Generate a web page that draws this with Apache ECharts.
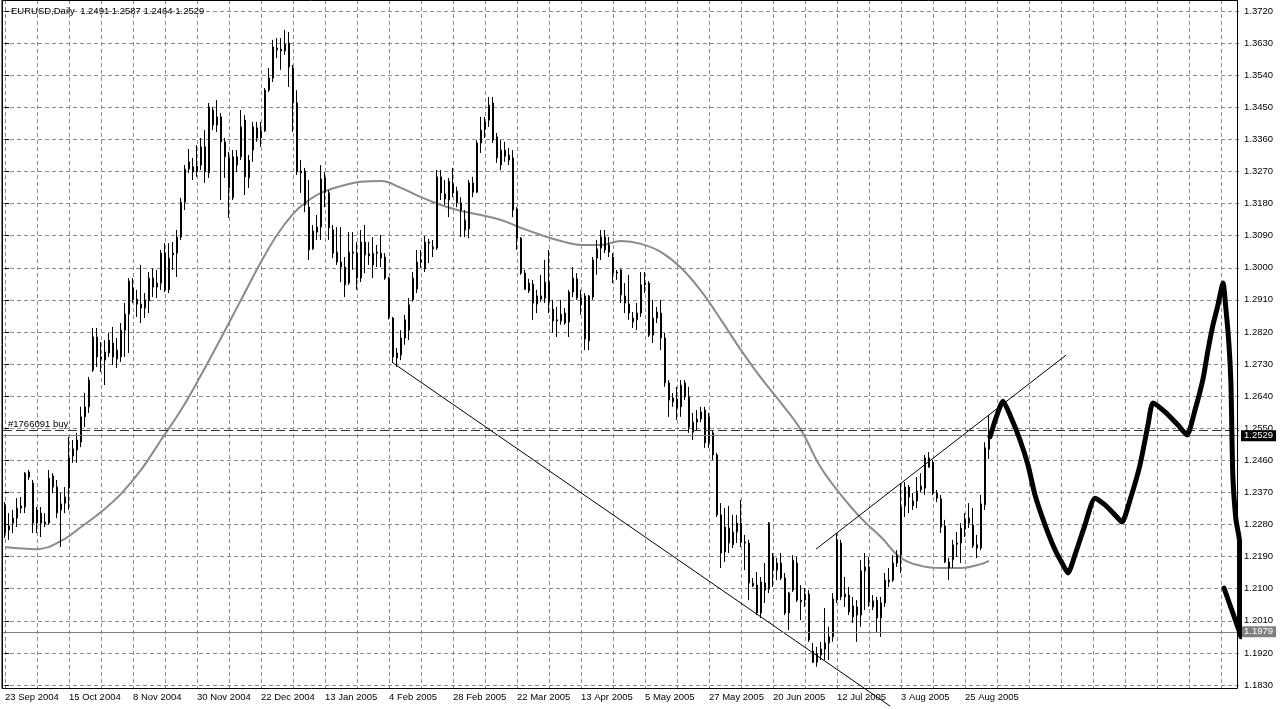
<!DOCTYPE html>
<html><head><meta charset="utf-8">
<script src="https://cdn.jsdelivr.net/npm/echarts@6/dist/echarts.min.js"></script>
<style>html,body{margin:0;padding:0;background:#fff}#c{width:1280px;height:709px}</style>
</head><body><div id="c"></div>
<script>
// ---- data ----
const symbolTitle = 'EURUSD,Daily  1.2491 1.2587 1.2464 1.2529';
const dateLabels = ['23 Sep 2004','15 Oct 2004','8 Nov 2004','30 Nov 2004','22 Dec 2004','13 Jan 2005','4 Feb 2005','28 Feb 2005','22 Mar 2005','13 Apr 2005','5 May 2005','27 May 2005','20 Jun 2005','12 Jul 2005','3 Aug 2005','25 Aug 2005'];
const yTickMin = 1.1830, yTickMax = 1.3720, yTickStep = 0.0090;

const open = [1.2335,1.2265,1.2284,1.2298,1.2326,1.2329,1.2427,1.2396,1.2284,1.2312,1.2282,1.2284,1.2416,1.2385,1.2321,1.2340,1.2382,1.2472,1.2489,1.2511,1.2582,1.2610,1.2713,1.2806,1.2750,1.2741,1.2761,1.2789,1.2769,1.2750,1.2825,1.2870,1.2943,1.2912,1.2898,1.2887,1.2907,1.2971,1.2946,1.2957,1.3041,1.2938,1.3041,1.3041,1.3086,1.3184,1.3277,1.3283,1.3269,1.3288,1.3339,1.3266,1.3442,1.3400,1.3423,1.3353,1.3308,1.3196,1.3311,1.3311,1.3414,1.3252,1.3330,1.3392,1.3364,1.3384,1.3498,1.3532,1.3616,1.3608,1.3608,1.3630,1.3560,1.3462,1.3271,1.3271,1.3170,1.3053,1.3100,1.3114,1.3252,1.3210,1.3106,1.3044,1.3016,1.3002,1.2957,1.3041,1.3041,1.2971,1.3072,1.3039,1.3008,1.3044,1.3041,1.3030,1.2971,1.2859,1.2747,1.2755,1.2803,1.2825,1.2910,1.2940,1.3022,1.2997,1.3069,1.3053,1.3055,1.3255,1.3207,1.3190,1.3235,1.3215,1.3182,1.3134,1.3109,1.3238,1.3212,1.3350,1.3389,1.3414,1.3462,1.3367,1.3288,1.3330,1.3316,1.3308,1.3165,1.3083,1.2985,1.2935,1.2954,1.2898,1.2921,1.2915,1.2960,1.2884,1.2854,1.2851,1.2873,1.2848,1.2932,1.2969,1.2915,1.2921,1.2795,1.2918,1.3027,1.3055,1.3086,1.3044,1.3030,1.2988,1.2994,1.2921,1.2898,1.2859,1.2854,1.2873,1.2952,1.2957,1.2811,1.2859,1.2873,1.2803,1.2677,1.2624,1.2632,1.2610,1.2677,1.2638,1.2539,1.2567,1.2576,1.2601,1.2509,1.2537,1.2475,1.2307,1.2203,1.2270,1.2223,1.2259,1.2284,1.2231,1.2228,1.2108,1.2110,1.2032,1.2116,1.2099,1.2189,1.2152,1.2172,1.2130,1.2032,1.2096,1.2172,1.2063,1.2068,1.2085,1.1925,1.1894,1.1914,1.1931,1.1948,1.1965,1.2068,1.2228,1.2077,1.2082,1.2021,1.2049,1.2026,1.2150,1.2161,1.2049,1.2068,1.2018,1.2060,1.2119,1.2124,1.2172,1.2195,1.2332,1.2385,1.2332,1.2346,1.2377,1.2382,1.2467,1.2455,1.2368,1.2352,1.2276,1.2175,1.2181,1.2228,1.2228,1.2267,1.2298,1.2279,1.2223,1.2214,1.2335,1.2491];
const high = [1.2343,1.2312,1.2321,1.2354,1.2357,1.2427,1.2433,1.2405,1.2329,1.2329,1.2312,1.2433,1.2424,1.2405,1.2368,1.2385,1.2526,1.2517,1.2537,1.2610,1.2649,1.2694,1.2831,1.2831,1.2792,1.2797,1.2817,1.2834,1.2803,1.2845,1.2901,1.2971,1.2971,1.2938,1.3008,1.2929,1.2988,1.2998,1.2994,1.3050,1.3069,1.3069,1.3072,1.3106,1.3196,1.3288,1.3333,1.3308,1.3344,1.3364,1.3386,1.3462,1.3451,1.3470,1.3434,1.3364,1.3325,1.3330,1.3330,1.3442,1.3428,1.3316,1.3409,1.3409,1.3409,1.3504,1.3560,1.3639,1.3644,1.3644,1.3667,1.3661,1.3569,1.3498,1.3302,1.3280,1.3246,1.3120,1.3148,1.3288,1.3269,1.3218,1.3120,1.3114,1.3114,1.3030,1.3100,1.3100,1.3072,1.3106,1.3120,1.3072,1.3086,1.3064,1.3092,1.3041,1.2974,1.2862,1.2775,1.2825,1.2868,1.2915,1.2988,1.3050,1.3050,1.3089,1.3081,1.3078,1.3274,1.3274,1.3246,1.3252,1.3280,1.3227,1.3198,1.3162,1.3246,1.3255,1.3358,1.3423,1.3423,1.3479,1.3479,1.3378,1.3358,1.3353,1.3336,1.3330,1.3170,1.3086,1.2994,1.2969,1.2966,1.2938,1.2980,1.3022,1.3050,1.2910,1.2890,1.2910,1.2887,1.2938,1.3002,1.2985,1.2938,1.2929,1.2924,1.3030,1.3078,1.3106,1.3106,1.3086,1.3041,1.2994,1.2997,1.2957,1.2980,1.2876,1.2901,1.2988,1.2988,1.2963,1.2910,1.2890,1.2910,1.2817,1.2685,1.2649,1.2666,1.2685,1.2685,1.2666,1.2593,1.2601,1.2610,1.2610,1.2593,1.2545,1.2481,1.2340,1.2326,1.2332,1.2307,1.2307,1.2349,1.2251,1.2237,1.2130,1.2147,1.2133,1.2172,1.2287,1.2200,1.2186,1.2200,1.2144,1.2091,1.2194,1.2189,1.2110,1.2102,1.2096,1.1948,1.1937,1.1951,1.2046,1.1993,1.2088,1.2256,1.2237,1.2133,1.2105,1.2077,1.2068,1.2180,1.2200,1.2189,1.2082,1.2077,1.2077,1.2144,1.2158,1.2194,1.2208,1.2396,1.2399,1.2391,1.2368,1.2413,1.2424,1.2475,1.2483,1.2461,1.2377,1.2363,1.2293,1.2186,1.2237,1.2259,1.2284,1.2312,1.2340,1.2326,1.2251,1.2363,1.2511,1.2587];
const low = [1.2242,1.2237,1.2256,1.2273,1.2312,1.2312,1.2405,1.2256,1.2256,1.2245,1.2273,1.2279,1.2368,1.2298,1.2217,1.2312,1.2321,1.2453,1.2453,1.2497,1.2553,1.2593,1.2708,1.2722,1.2708,1.2671,1.2750,1.2727,1.2719,1.2736,1.2750,1.2761,1.2901,1.2862,1.2845,1.2859,1.2873,1.2918,1.2915,1.2938,1.2932,1.2929,1.2994,1.2974,1.3078,1.3162,1.3266,1.3246,1.3255,1.3274,1.3238,1.3252,1.3386,1.3381,1.3190,1.3252,1.3140,1.3190,1.3269,1.3302,1.3204,1.3224,1.3297,1.3353,1.3339,1.3381,1.3493,1.3521,1.3588,1.3555,1.3597,1.3507,1.3381,1.3260,1.3210,1.3156,1.3022,1.3050,1.3078,1.3078,1.3170,1.3078,1.3027,1.3008,1.2960,1.2918,1.2952,1.2994,1.2938,1.2960,1.2985,1.3008,1.2971,1.3002,1.3002,1.2966,1.2855,1.2733,1.2722,1.2741,1.2784,1.2797,1.2905,1.2929,1.2999,1.2988,1.3013,1.3030,1.3050,1.3190,1.3176,1.3142,1.3198,1.3170,1.3086,1.3086,1.3083,1.3198,1.3210,1.3322,1.3364,1.3395,1.3350,1.3294,1.3274,1.3297,1.3288,1.3142,1.3050,1.2980,1.2938,1.2929,1.2854,1.2873,1.2904,1.2901,1.2873,1.2817,1.2806,1.2840,1.2840,1.2806,1.2918,1.2910,1.2868,1.2769,1.2769,1.2910,1.2980,1.3022,1.3041,1.3030,1.2957,1.2966,1.2901,1.2873,1.2854,1.2831,1.2825,1.2862,1.2929,1.2806,1.2789,1.2845,1.2769,1.2666,1.2582,1.2610,1.2573,1.2582,1.2629,1.2537,1.2517,1.2545,1.2567,1.2495,1.2495,1.2461,1.2301,1.2158,1.2175,1.2200,1.2214,1.2228,1.2217,1.2152,1.2068,1.2105,1.2026,1.2018,1.2060,1.2088,1.2105,1.2124,1.2124,1.2026,1.1984,1.2091,1.2063,1.2012,1.2049,1.1951,1.1892,1.1881,1.1900,1.1900,1.1900,1.1951,1.2060,1.2068,1.2049,1.2026,1.2004,1.1951,1.1993,1.2040,1.2049,1.2040,1.1979,1.1965,1.2049,1.2105,1.2119,1.2161,1.2144,1.2301,1.2312,1.2321,1.2326,1.2371,1.2363,1.2439,1.2363,1.2343,1.2256,1.2172,1.2124,1.2158,1.2189,1.2172,1.2245,1.2270,1.2214,1.2186,1.2208,1.2321,1.2464];
const close = [1.2256,1.2276,1.2298,1.2326,1.2332,1.2424,1.2413,1.2284,1.2321,1.2284,1.2287,1.2410,1.2385,1.2312,1.2338,1.2357,1.2467,1.2492,1.2517,1.2582,1.2610,1.2685,1.2806,1.2750,1.2744,1.2764,1.2797,1.2750,1.2744,1.2825,1.2870,1.2963,1.2910,1.2898,1.2887,1.2910,1.2971,1.2946,1.2957,1.3041,1.2938,1.3027,1.3036,1.3086,1.3184,1.3277,1.3297,1.3269,1.3285,1.3339,1.3269,1.3451,1.3400,1.3423,1.3353,1.3311,1.3224,1.3311,1.3288,1.3395,1.3255,1.3302,1.3395,1.3364,1.3384,1.3498,1.3532,1.3619,1.3611,1.3613,1.3627,1.3563,1.3462,1.3269,1.3266,1.3176,1.3050,1.3103,1.3114,1.3249,1.3212,1.3112,1.3041,1.3016,1.3002,1.2952,1.3044,1.3044,1.2971,1.3072,1.3036,1.3033,1.3041,1.3041,1.3027,1.2971,1.2862,1.2750,1.2761,1.2803,1.2854,1.2896,1.2971,1.3016,1.3016,1.3072,1.3072,1.3058,1.3255,1.3210,1.3193,1.3243,1.3210,1.3182,1.3162,1.3106,1.3238,1.3212,1.3350,1.3386,1.3409,1.3456,1.3358,1.3308,1.3330,1.3313,1.3302,1.3162,1.3083,1.2985,1.2940,1.2957,1.2901,1.2921,1.2912,1.2960,1.2904,1.2851,1.2851,1.2870,1.2845,1.2932,1.2971,1.2915,1.2896,1.2800,1.2921,1.3022,1.3053,1.3086,1.3050,1.3064,1.2985,1.2985,1.2924,1.2901,1.2873,1.2848,1.2873,1.2952,1.2957,1.2811,1.2859,1.2876,1.2803,1.2677,1.2629,1.2635,1.2607,1.2671,1.2638,1.2553,1.2567,1.2576,1.2596,1.2509,1.2582,1.2475,1.2307,1.2200,1.2273,1.2228,1.2259,1.2284,1.2231,1.2228,1.2116,1.2116,1.2032,1.2119,1.2096,1.2284,1.2152,1.2172,1.2130,1.2032,1.2088,1.2180,1.2068,1.2068,1.2085,1.1956,1.1894,1.1917,1.1931,1.1948,1.1965,1.2071,1.2237,1.2077,1.2085,1.2035,1.2052,1.2026,1.2150,1.2161,1.2063,1.2066,1.2018,1.2060,1.2124,1.2124,1.2172,1.2194,1.2329,1.2385,1.2357,1.2346,1.2374,1.2388,1.2467,1.2441,1.2368,1.2354,1.2273,1.2175,1.2158,1.2223,1.2225,1.2270,1.2295,1.2284,1.2220,1.2214,1.2338,1.2495,1.2529];

// moving average, sampled at bar positions
const maBar = [0,8,14,19,24,29,34,39,44,49,54,59,64,68,72,75,79,84,89,94,99,104,109,114,119,124,129,134,139,144,149,154,159,164,169,174,179,184,189,194,199,204,210,214,219,224,229,234,239,244,246];
const maVal = [1.2217,1.2211,1.2234,1.2273,1.2315,1.2366,1.2433,1.2517,1.2601,1.2699,1.2803,1.2910,1.3016,1.3092,1.3151,1.3182,1.3210,1.3229,1.3241,1.3243,1.3224,1.3198,1.3176,1.3159,1.3148,1.3134,1.3112,1.3092,1.3075,1.3064,1.3064,1.3075,1.3067,1.3044,1.3000,1.2935,1.2854,1.2769,1.2691,1.2621,1.2545,1.2439,1.2349,1.2298,1.2245,1.2186,1.2164,1.2158,1.2158,1.2169,1.2178];

// trend lines (bar position, price)
const lowerTrendBar = [97, 221.25], lowerTrendVal = [1.2733, 1.1771];
const upperTrendBar = [202.75, 265.25], upperTrendVal = [1.2211, 1.2755];

// hand-drawn forecast strokes (bar position, price)
const handBar = [246.25,247.75,249.5,251.25,253.75,255.75,257.5,260,262.5,264.5,265.75,267.5,270,272.5,275,277.5,279.25,281.25,283.75,285.75,287,290,293.25,295.5,297.5,299.5,300.75,302,303.25,304.5,305.25,306,306.5,306.75,307,307.75,308.75,308.75,309];
const handVal = [1.2526,1.2579,1.2626,1.2587,1.2517,1.2447,1.2363,1.2279,1.2209,1.2167,1.2144,1.2195,1.2279,1.2354,1.2335,1.2307,1.2287,1.2349,1.2447,1.2559,1.2621,1.2596,1.2559,1.2531,1.2601,1.2688,1.2769,1.2840,1.2896,1.2957,1.2882,1.2783,1.2671,1.2517,1.2405,1.2293,1.2223,1.2068,1.1965];
const hand2Bar = [304.75, 309, 312.75];
const hand2Val = [1.2102, 1.1967, 1.2096];

const lastPrice = 1.2529, lowLinePrice = 1.1979, orderPrice = 1.2545, orderText = '#1766091 buy';

// ---- chart ----
const N = 309; // slots of 4px
const cats = Array.from({length: N}, (_, i) => String(i));
const FONT = 'Liberation Sans';
const pair = (xs, ys) => xs.map((x, k) => [x, ys[k]]);

const chart = echarts.init(document.getElementById('c'), null, {renderer: 'canvas'});
chart.setOption({
  animation: false,
  backgroundColor: '#fff',
  title: {text: symbolTitle, left: 6, top: 1, textStyle: {fontSize: 9.5, fontWeight: 'normal', color: '#000', fontFamily: FONT}},
  grid: [
    {left: 3, right: 41, top: 11, bottom: 24},
    {left: 5, right: 43, top: 0, bottom: 21}
  ],
  xAxis: [
    {type: 'category', gridIndex: 0, data: cats, boundaryGap: true, show: false},
    {type: 'value', gridIndex: 0, min: -0.5, max: N - 0.5, show: false},
    {type: 'value', gridIndex: 1, min: 0, max: 308, interval: 8,
      axisLine: {show: false}, axisTick: {show: false},
      splitLine: {show: true, lineStyle: {color: '#8c8c8c', type: [4, 3], width: 1}},
      axisLabel: {align: 'left', margin: 4, color: '#000', fontSize: 9.5, fontFamily: FONT, showMinLabel: true, showMaxLabel: true,
        formatter: v => (v % 16 === 0 && v / 16 < dateLabels.length) ? dateLabels[v / 16] : ''}}
  ],
  yAxis: [
    {type: 'value', gridIndex: 0, position: 'right', min: yTickMin, max: yTickMax, interval: yTickStep,
      axisLine: {show: false},
      axisTick: {show: true, length: 4, lineStyle: {color: '#000'}},
      axisLabel: {margin: 5, color: '#000', fontSize: 9.5, fontFamily: FONT, formatter: v => v.toFixed(4)},
      splitLine: {show: true, lineStyle: {color: '#8c8c8c', type: [4, 3], width: 1}}},
    {type: 'value', gridIndex: 1, min: 0, max: 1, show: false}
  ],
  graphic: [
    {type: 'rect', z: 100, silent: true, shape: {x: 2.5, y: 0.5, width: 1235, height: 688}, style: {fill: 'none', stroke: '#000', lineWidth: 1}},
    {type: 'line', z: 100, silent: true, shape: {x1: 1.5, y1: 0, x2: 1.5, y2: 689}, style: {stroke: '#808080', lineWidth: 1}}
  ],
  series: [
    {type: 'line', name: 'MA', xAxisIndex: 1, yAxisIndex: 0, data: pair(maBar, maVal), smooth: 0.4, symbol: 'none',
      lineStyle: {color: '#8a8a8a', width: 2}, z: 2},
    {type: 'candlestick', xAxisIndex: 0, yAxisIndex: 0, barWidth: 2,
      data: open.map((o, i) => [o, close[i], low[i], high[i]]),
      itemStyle: {color: '#fff', color0: '#000', borderColor: '#000', borderColor0: '#000', borderWidth: 1},
      z: 3,
      markLine: {symbol: ['none', 'none'], silent: true, animation: false, precision: 4,
        data: [
          {yAxis: lastPrice, lineStyle: {color: '#808080', type: 'solid', width: 1},
            label: {show: true, position: 'end', distance: 2, formatter: lastPrice.toFixed(4), color: '#fff', backgroundColor: '#000', padding: [1, 3, 0, 3], fontSize: 9.5, fontFamily: FONT}},
          {yAxis: lowLinePrice, lineStyle: {color: '#808080', type: 'solid', width: 1},
            label: {show: true, position: 'end', distance: 2, formatter: lowLinePrice.toFixed(4), color: '#fff', backgroundColor: '#808080', padding: [1, 3, 0, 3], fontSize: 9.5, fontFamily: FONT}},
          {yAxis: orderPrice, lineStyle: {color: '#333', type: [9, 4], width: 1},
            label: {show: true, position: 'insideStartTop', distance: 1, formatter: orderText, color: '#000', fontSize: 9.5, fontFamily: FONT, padding: [0, 0, 0, 4]}}
        ]}},
    {type: 'line', xAxisIndex: 1, yAxisIndex: 0, data: pair(lowerTrendBar, lowerTrendVal), symbol: 'none', clip: false,
      lineStyle: {color: '#000', width: 1}, z: 4},
    {type: 'line', xAxisIndex: 1, yAxisIndex: 0, data: pair(upperTrendBar, upperTrendVal), symbol: 'none', clip: false,
      lineStyle: {color: '#000', width: 1}, z: 4},
    {type: 'line', xAxisIndex: 1, yAxisIndex: 0, data: pair(handBar, handVal), symbol: 'none', clip: false, smooth: 0.2,
      lineStyle: {color: '#000', width: 5, cap: 'round', join: 'round'}, z: 5},
    {type: 'line', xAxisIndex: 1, yAxisIndex: 0, data: pair(hand2Bar, hand2Val), symbol: 'none', clip: false,
      lineStyle: {color: '#000', width: 5, cap: 'round', join: 'round'}, z: 5}
  ]
});
</script></body></html>
